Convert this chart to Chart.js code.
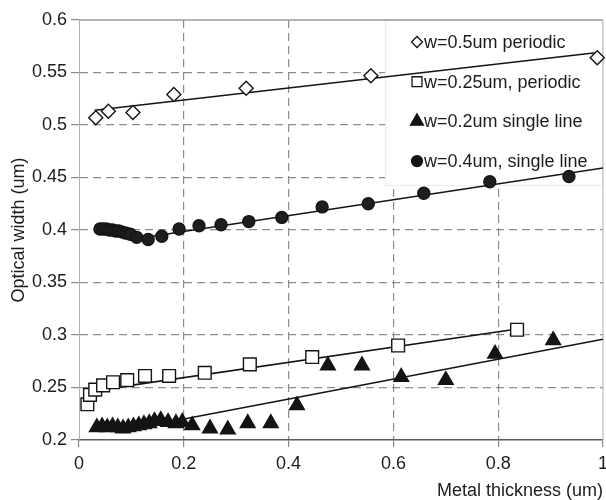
<!DOCTYPE html>
<html>
<head>
<meta charset="utf-8">
<script src="https://cdn.jsdelivr.net/npm/chart.js@4.4.1/dist/chart.umd.min.js"></script>
<style>
  html, body { margin: 0; padding: 0; background: #fff; }
  #chart { display: block; }
</style>
</head>
<body>
<canvas id="chart" width="606" height="500"></canvas>
<script>
// Axis tick labels
const xTickLabels = ['0', '0.2', '0.4', '0.6', '0.8', '1'];
const yTickLabels = ['0.2', '0.25', '0.3', '0.35', '0.4', '0.45', '0.5', '0.55', '0.6'];

const seriesNames = ['w=0.5um periodic', 'w=0.25um, periodic', 'w=0.2um single line', 'w=0.4um, single line'];

// w=0.5um periodic
const wide5X = [0.032, 0.056, 0.103, 0.181, 0.319, 0.557, 0.989];
const wide5Y = [0.507, 0.513, 0.512, 0.529, 0.535, 0.547, 0.564];

// w=0.25um periodic
const per25X = [0.016, 0.021, 0.031, 0.046, 0.065, 0.092, 0.126, 0.172, 0.240, 0.326, 0.445, 0.609, 0.836];
const per25Y = [0.234, 0.243, 0.248, 0.252, 0.255, 0.257, 0.261, 0.261, 0.264, 0.272, 0.279, 0.290, 0.305];

// w=0.2um single line
const single2X = [0.034, 0.044, 0.054, 0.064, 0.074, 0.084, 0.094, 0.104, 0.114, 0.124, 0.134, 0.144, 0.156, 0.170, 0.185, 0.197,
                  0.216, 0.250, 0.284, 0.322, 0.366, 0.416, 0.475, 0.540, 0.615, 0.700, 0.794, 0.905];
const single2Y = [0.212, 0.213, 0.212, 0.213, 0.212, 0.211, 0.212, 0.213, 0.214, 0.215, 0.216, 0.218, 0.219, 0.217, 0.216, 0.217,
                  0.214, 0.211, 0.210, 0.216, 0.216, 0.233, 0.271, 0.271, 0.260, 0.257, 0.282, 0.295];

// w=0.4um single line
const single4X = [0.040, 0.046, 0.052, 0.058, 0.064, 0.070, 0.076, 0.083, 0.090, 0.098, 0.110, 0.132, 0.158, 0.191,
                  0.229, 0.271, 0.324, 0.387, 0.464, 0.552, 0.658, 0.784, 0.935];
const single4Y = [0.401, 0.401, 0.401, 0.400, 0.400, 0.399, 0.399, 0.398, 0.397, 0.396, 0.393, 0.391, 0.394, 0.401,
                  0.404, 0.405, 0.408, 0.412, 0.422, 0.425, 0.435, 0.446, 0.451];

// linear fits (end points)
const fit5X = [0.03, 0.99], fit5Y = [0.514, 0.569];
const fit25X = [0.03, 0.84], fit25Y = [0.247, 0.306];
const fit2X = [0.19, 1.0], fit2Y = [0.219, 0.296];
const fit4X = [0.14, 1.0], fit4Y = [0.394, 0.459];

const toPoints = (xs, ys) => xs.map((x, i) => ({ x: x, y: ys[i] }));

const INK = '#141414';
const GRID = '#8c8c8c';
const FONT = '"Liberation Sans", Arial, Helvetica, sans-serif';

Chart.defaults.font.family = FONT;
Chart.defaults.font.size = 18;
Chart.defaults.color = '#1c1c1c';

function markers(label, data, style, radius, fill) {
    return {
        label: label,
        data: data,
        pointStyle: style,
        pointRadius: radius,
        pointHoverRadius: radius,
        pointBackgroundColor: fill,
        pointBorderColor: INK,
        pointBorderWidth: 1.4,
        showLine: false,
        clip: false
    };
}

function fitLine(data) {
    return {
        label: '',
        data: data,
        showLine: true,
        pointRadius: 0,
        borderColor: INK,
        borderWidth: 1.6,
        fill: false
    };
}

const legendMarks = [
    { style: 'rectRot', radius: 5.5, fill: '#fff' },
    { style: 'rect', radius: 7, fill: '#fff' },
    { style: 'triangle', radius: 7.5, fill: INK },
    { style: 'circle', radius: 5.5, fill: INK }
];

// frame edges and the white legend panel, drawn over the grid
const panelPlugin = {
    id: 'panel',
    beforeDatasetsDraw(chart) {
        const { ctx, chartArea: a } = chart;
        ctx.save();
        ctx.fillStyle = '#fff';
        ctx.fillRect(a.right - 217, a.top + 1, 216, 164);
        ctx.strokeStyle = '#ececec';
        ctx.lineWidth = 1;
        ctx.strokeRect(a.right - 217.5, a.top + 0.5, 217, 165);

        ctx.strokeStyle = '#9a9a9a';
        ctx.lineWidth = 1.5;
        ctx.beginPath();
        ctx.moveTo(a.left, a.top);
        ctx.lineTo(a.right, a.top);
        ctx.stroke();
        ctx.strokeStyle = '#b0b0b0';
        ctx.lineWidth = 1;
        ctx.beginPath();
        ctx.moveTo(a.right, a.top);
        ctx.lineTo(a.right, a.bottom);
        ctx.stroke();
        ctx.restore();
    },
    afterDatasetsDraw(chart) {
        const { ctx, chartArea: a } = chart;
        const mx = a.right - 186;
        ctx.save();
        ctx.font = '18px ' + FONT;
        ctx.textBaseline = 'middle';
        ctx.textAlign = 'left';
        chart.data.datasets.slice(0, 4).forEach((ds, i) => {
            const y = a.top + 22 + i * 39.7;
            const m = legendMarks[i];
            ctx.fillStyle = m.fill;
            ctx.strokeStyle = INK;
            ctx.lineWidth = 1.3;
            Chart.helpers.drawPoint(ctx, { pointStyle: m.style, radius: m.radius, rotation: 0, borderWidth: 1.3 }, mx, y);
            ctx.fillStyle = '#1c1c1c';
            ctx.fillText(ds.label, mx + 7, y + 1);
        });
        ctx.restore();
    }
};

const edgeOrGrid = (ctx) => {
    if (!ctx.tick) return GRID;
    const n = ctx.chart.scales[ctx.scale.id].ticks.length;
    return (ctx.index === 0 || ctx.index === n - 1) ? 'rgba(0,0,0,0)' : GRID;
};

new Chart(document.getElementById('chart'), {
    type: 'scatter',
    data: {
        datasets: [
            markers(seriesNames[0], toPoints(wide5X, wide5Y), 'rectRot', 7, '#fff'),
            markers(seriesNames[1], toPoints(per25X, per25Y), 'rect', 9, '#fff'),
            markers(seriesNames[2], toPoints(single2X, single2Y), 'triangle', 8.5, INK),
            markers(seriesNames[3], toPoints(single4X, single4Y), 'circle', 6, '#1e1e1e'),
            fitLine(toPoints(fit5X, fit5Y)),
            fitLine(toPoints(fit25X, fit25Y)),
            fitLine(toPoints(fit2X, fit2Y)),
            fitLine(toPoints(fit4X, fit4Y))
        ]
    },
    options: {
        responsive: false,
        animation: false,
        events: [],
        layout: { autoPadding: false, padding: { top: 20, right: 3, left: 0, bottom: 0 } },
        plugins: {
            legend: { display: false },
            tooltip: { enabled: false }
        },
        scales: {
            x: {
                type: 'linear',
                min: 0,
                max: 1,
                ticks: {
                    stepSize: 0.2,
                    maxRotation: 0,
                    padding: 6,
                    color: '#1c1c1c',
                    callback: (v, i) => xTickLabels[i]
                },
                grid: {
                    color: edgeOrGrid,
                    lineWidth: 1.2,
                    tickLength: 7,
                    tickColor: GRID,
                    tickWidth: 1.2
                },
                border: { display: true, color: '#5a5a5a', width: 1.5, dash: [8, 5] },
                title: {
                    display: true,
                    text: 'Metal thickness (um)',
                    align: 'end',
                    color: '#1c1c1c',
                    font: { size: 18, lineHeight: 1 },
                    padding: 0
                },
                afterFit(scale) {
                    scale.height = 60;
                    scale.paddingLeft = 0;
                    scale.paddingRight = 0;
                }
            },
            y: {
                type: 'linear',
                min: 0.2,
                max: 0.6,
                ticks: {
                    stepSize: 0.05,
                    padding: 4,
                    color: '#1c1c1c',
                    callback: (v, i) => yTickLabels[i]
                },
                grid: {
                    color: edgeOrGrid,
                    lineWidth: 1.2,
                    tickLength: 8,
                    tickColor: GRID,
                    tickWidth: 1.2
                },
                border: { display: true, color: '#b0b0b0', width: 1, dash: [8, 5] },
                title: {
                    display: true,
                    text: 'Optical width (um)',
                    color: '#1c1c1c',
                    font: { size: 18, lineHeight: 1.2 },
                    padding: { top: 8, bottom: 0 }
                },
                afterFit(scale) {
                    scale.width = 79;
                    scale.paddingTop = 0;
                    scale.paddingBottom = 0;
                }
            }
        }
    },
    plugins: [panelPlugin]
});
</script>
</body>
</html>
